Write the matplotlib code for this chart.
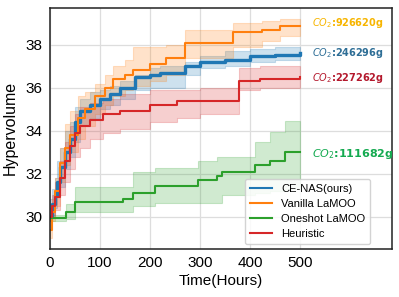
import matplotlib
matplotlib.use('Agg')
from matplotlib import pyplot as plt

# CE-NAS(ours)
ce_t = [0, 5, 10, 15, 20, 30, 40, 50, 60, 80, 100, 120, 140, 170, 200, 220, 270, 300, 350, 400, 450, 500]
ce_mean = [30.0, 30.6, 31.0, 31.6, 32.3, 33.0, 33.6, 34.4, 34.9, 35.2, 35.5, 35.7, 36.0, 36.5, 36.6, 36.7, 37.0, 37.2, 37.3, 37.5, 37.55, 37.6]
ce_lo = [29.8, 30.1, 30.4, 30.9, 31.4, 32.2, 32.8, 33.5, 34.2, 34.6, 35.0, 35.2, 35.5, 35.9, 36.0, 36.0, 36.6, 36.9, 37.0, 37.2, 37.3, 37.3]
ce_hi = [30.8, 31.3, 31.8, 32.6, 33.2, 34.0, 34.4, 35.1, 35.5, 35.8, 35.9, 36.1, 36.3, 36.6, 36.9, 37.0, 37.2, 37.5, 37.7, 37.8, 37.9, 37.9]

# Vanilla LaMOO
va_t = [0, 5, 10, 20, 30, 40, 56, 70, 90, 110, 127, 150, 166, 200, 233, 270, 366, 423, 460, 500]
va_mean = [29.4, 30.2, 31.2, 32.5, 33.2, 33.8, 34.6, 35.0, 35.6, 36.0, 36.4, 36.6, 36.85, 37.1, 37.4, 38.1, 38.6, 38.7, 38.9, 38.9]
va_lo = [29.0, 29.8, 30.5, 31.6, 32.4, 33.0, 33.6, 34.2, 34.8, 35.2, 35.6, 35.9, 36.1, 36.3, 36.6, 37.4, 37.9, 38.2, 38.4, 38.4]
va_hi = [30.0, 30.8, 31.8, 33.2, 34.3, 34.9, 35.6, 35.8, 36.2, 36.6, 37.0, 37.3, 37.9, 37.9, 38.0, 38.7, 39.0, 39.1, 39.2, 39.2]

# Oneshot LaMOO
os_t = [0, 15, 33, 50, 147, 167, 210, 296, 333, 343, 410, 440, 470, 500]
os_mean = [29.95, 29.95, 30.2, 30.7, 30.8, 31.1, 31.45, 31.7, 31.9, 32.1, 32.4, 32.6, 33.0, 33.0]
os_lo = [29.8, 29.8, 29.9, 30.2, 30.2, 30.5, 30.65, 30.65, 30.65, 31.0, 31.1, 31.2, 31.3, 31.3]
os_hi = [30.1, 30.1, 30.6, 31.4, 31.4, 32.1, 32.25, 32.6, 32.8, 32.8, 33.5, 33.95, 34.45, 34.3]

# Heuristic
he_t = [0, 5, 10, 20, 30, 40, 50, 60, 80, 107, 140, 200, 253, 300, 377, 420, 500]
he_mean = [30.0, 30.5, 30.9, 31.8, 32.6, 33.3, 33.9, 34.2, 34.5, 34.8, 34.9, 35.2, 35.4, 35.4, 36.3, 36.4, 36.5]
he_lo = [29.8, 30.0, 30.3, 31.0, 31.6, 32.2, 32.8, 33.2, 33.6, 33.9, 34.1, 34.4, 34.6, 34.8, 35.9, 36.0, 36.0]
he_hi = [30.4, 31.0, 31.6, 32.6, 33.5, 34.2, 34.8, 35.1, 35.3, 35.5, 35.7, 35.9, 35.9, 36.0, 36.9, 37.0, 37.0]

labels = ['CE-NAS(ours)', 'Vanilla LaMOO', 'Oneshot LaMOO', 'Heuristic']
co2_text = ['246296g', '926620g', '111682g', '227262g']
co2_colors = ['#2e6e96', '#f7b500', '#14aa50', '#b4192d']

plt.rcParams['font.family'] = ['Liberation Sans', 'DejaVu Sans']

fig = plt.figure(figsize=(3.99, 2.97), dpi=100)
ax = fig.add_axes([0.125, 0.162, 0.858, 0.812])

series = [
    (ce_t, ce_mean, ce_lo, ce_hi, '#1f77b4', 2.4),
    (va_t, va_mean, va_lo, va_hi, '#ff7f0e', 1.5),
    (os_t, os_mean, os_lo, os_hi, '#2ca02c', 1.5),
    (he_t, he_mean, he_lo, he_hi, '#d62728', 1.5),
]
for (t, m, lo, hi, c, lw), lab in zip(series, labels):
    ax.fill_between(t, lo, hi, step='post', color=c, alpha=0.22, linewidth=0.8)
    ax.step(t, m, where='post', color=c, lw=lw, label=lab)

ax.set_xlim(0, 684)
ax.set_ylim(28.5, 39.73)
ax.set_xticks([0, 100, 200, 300, 400, 500])
ax.set_yticks([30, 32, 34, 36, 38])
ax.grid(color='#dddddd', lw=0.9)
ax.set_axisbelow(True)
for s in ax.spines.values():
    s.set_color('#222222')
    s.set_linewidth(1.1)
ax.tick_params(length=0, labelsize=11, pad=5)
ax.set_xlabel('Time(Hours)', fontsize=11, labelpad=3)
ax.set_ylabel('Hypervolume', fontsize=11.5, labelpad=6)

ends = [37.6, 39.0, 32.9, 36.45]
sizes = [7, 7, 8, 7]
for txt, col, y, fs in zip(co2_text, co2_colors, ends, sizes):
    ax.text(524, y, '$CO_2$:' + txt, color=col, fontsize=fs, fontweight='bold',
            family='DejaVu Sans', va='center', ha='left')

leg = ax.legend(loc='lower right', bbox_to_anchor=(0.936, 0.02), borderaxespad=0,
                fontsize=8, frameon=True, fancybox=True, framealpha=0.85,
                borderpad=0.45, labelspacing=0.45)
for h in leg.get_lines():
    h.set_linewidth(1.5)

fig.savefig('out.png', dpi=100)
